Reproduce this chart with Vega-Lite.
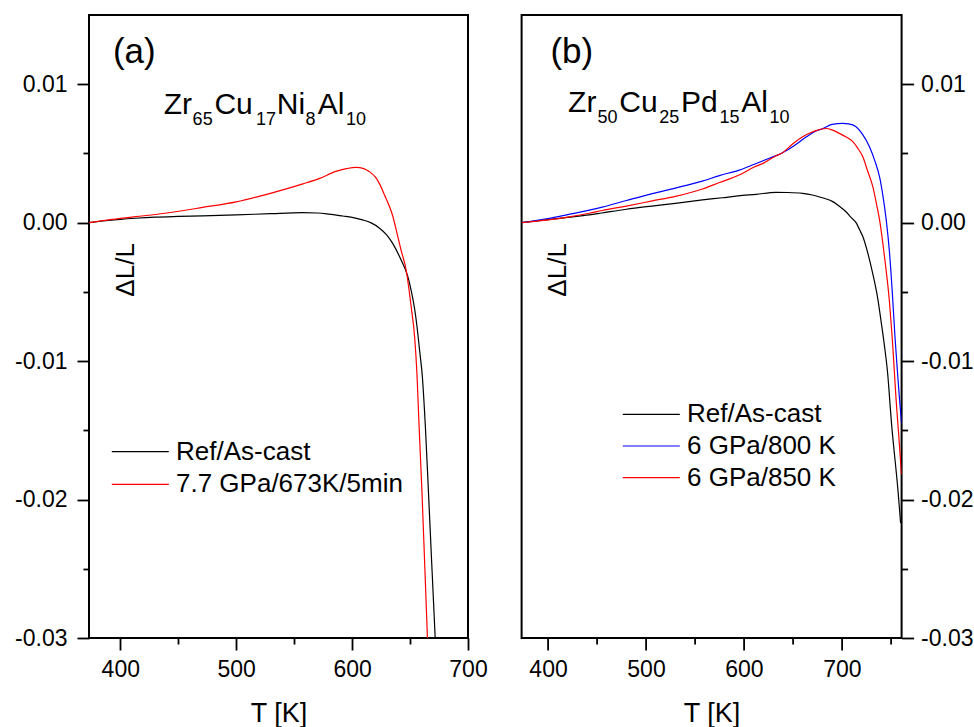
{
  "$schema": "https://vega.github.io/schema/vega-lite/v6.json",
  "padding": {"left": 13, "top": 14, "right": 2, "bottom": 0},
  "bounds": "flush",
  "spacing": 53.6,
  "config": {
    "font": "Liberation Sans",
    "view": {"stroke": "black", "strokeWidth": 2},
    "axis": {"domain": false, "grid": false, "tickColor": "black", "tickWidth": 1.8, "tickSize": 12, "labelFont": "Liberation Sans", "labelFontSize": 23, "labelColor": "black", "labelFlush": false, "labelOverlap": false, "titleFont": "Liberation Sans", "titleFontWeight": "normal", "titleColor": "black"},
    "legend": {"orient": "none", "symbolType": "M-3,0H3", "symbolSize": 361, "symbolStrokeWidth": 1.2, "labelFont": "Liberation Sans", "labelFontSize": 26, "labelColor": "black", "labelOffset": 22.7, "rowPadding": 6.6, "padding": 0, "labelLimit": 500},
    "text": {"font": "Liberation Sans", "color": "black"}
  },
  "datasets": {
    "a": [
      {"T": 373, "dL": 0, "s": "Ref/As-cast"},
      {"T": 385, "dL": 0.00012, "s": "Ref/As-cast"},
      {"T": 400, "dL": 0.00024, "s": "Ref/As-cast"},
      {"T": 413, "dL": 0.00032, "s": "Ref/As-cast"},
      {"T": 430, "dL": 0.0004, "s": "Ref/As-cast"},
      {"T": 450, "dL": 0.00045, "s": "Ref/As-cast"},
      {"T": 471, "dL": 0.00049, "s": "Ref/As-cast"},
      {"T": 500, "dL": 0.00056, "s": "Ref/As-cast"},
      {"T": 530, "dL": 0.00065, "s": "Ref/As-cast"},
      {"T": 557, "dL": 0.00072, "s": "Ref/As-cast"},
      {"T": 570, "dL": 0.0007, "s": "Ref/As-cast"},
      {"T": 580, "dL": 0.00062, "s": "Ref/As-cast"},
      {"T": 592, "dL": 0.00048, "s": "Ref/As-cast"},
      {"T": 600, "dL": 0.00038, "s": "Ref/As-cast"},
      {"T": 609, "dL": 0.0002, "s": "Ref/As-cast"},
      {"T": 616, "dL": 0.0, "s": "Ref/As-cast"},
      {"T": 623.7, "dL": -0.0004, "s": "Ref/As-cast"},
      {"T": 630, "dL": -0.0009, "s": "Ref/As-cast"},
      {"T": 635, "dL": -0.0015, "s": "Ref/As-cast"},
      {"T": 642.3, "dL": -0.0027, "s": "Ref/As-cast"},
      {"T": 648.1, "dL": -0.0039, "s": "Ref/As-cast"},
      {"T": 651, "dL": -0.0049, "s": "Ref/As-cast"},
      {"T": 653.9, "dL": -0.0062, "s": "Ref/As-cast"},
      {"T": 656, "dL": -0.0075, "s": "Ref/As-cast"},
      {"T": 658.2, "dL": -0.0092, "s": "Ref/As-cast"},
      {"T": 660.5, "dL": -0.0110, "s": "Ref/As-cast"},
      {"T": 663.2, "dL": -0.0147, "s": "Ref/As-cast"},
      {"T": 665.8, "dL": -0.0193, "s": "Ref/As-cast"},
      {"T": 668.7, "dL": -0.0246, "s": "Ref/As-cast"},
      {"T": 671.7, "dL": -0.03, "s": "Ref/As-cast"},
      {"T": 373, "dL": 0, "s": "7.7 GPa/673K/5min"},
      {"T": 390, "dL": 0.0002, "s": "7.7 GPa/673K/5min"},
      {"T": 413.5, "dL": 0.00043, "s": "7.7 GPa/673K/5min"},
      {"T": 440, "dL": 0.0007, "s": "7.7 GPa/673K/5min"},
      {"T": 471, "dL": 0.0011, "s": "7.7 GPa/673K/5min"},
      {"T": 500, "dL": 0.0015, "s": "7.7 GPa/673K/5min"},
      {"T": 528.7, "dL": 0.0021, "s": "7.7 GPa/673K/5min"},
      {"T": 557.5, "dL": 0.0028, "s": "7.7 GPa/673K/5min"},
      {"T": 572, "dL": 0.0032, "s": "7.7 GPa/673K/5min"},
      {"T": 586, "dL": 0.0037, "s": "7.7 GPa/673K/5min"},
      {"T": 595, "dL": 0.0039, "s": "7.7 GPa/673K/5min"},
      {"T": 603.5, "dL": 0.004, "s": "7.7 GPa/673K/5min"},
      {"T": 610, "dL": 0.0039, "s": "7.7 GPa/673K/5min"},
      {"T": 615, "dL": 0.00368, "s": "7.7 GPa/673K/5min"},
      {"T": 620, "dL": 0.0033, "s": "7.7 GPa/673K/5min"},
      {"T": 623.7, "dL": 0.0028, "s": "7.7 GPa/673K/5min"},
      {"T": 628, "dL": 0.002, "s": "7.7 GPa/673K/5min"},
      {"T": 632.3, "dL": 0.00115, "s": "7.7 GPa/673K/5min"},
      {"T": 635, "dL": 0.0005, "s": "7.7 GPa/673K/5min"},
      {"T": 638, "dL": -0.0005, "s": "7.7 GPa/673K/5min"},
      {"T": 642.3, "dL": -0.002, "s": "7.7 GPa/673K/5min"},
      {"T": 646.6, "dL": -0.0034, "s": "7.7 GPa/673K/5min"},
      {"T": 651, "dL": -0.0061, "s": "7.7 GPa/673K/5min"},
      {"T": 654, "dL": -0.0083, "s": "7.7 GPa/673K/5min"},
      {"T": 656, "dL": -0.011, "s": "7.7 GPa/673K/5min"},
      {"T": 657.8, "dL": -0.0147, "s": "7.7 GPa/673K/5min"},
      {"T": 660.3, "dL": -0.0195, "s": "7.7 GPa/673K/5min"},
      {"T": 662.7, "dL": -0.0248, "s": "7.7 GPa/673K/5min"},
      {"T": 665, "dL": -0.03, "s": "7.7 GPa/673K/5min"}
    ],
    "b": [
      {"T": 373, "dL": 0, "s": "Ref/As-cast"},
      {"T": 400, "dL": 0.00022, "s": "Ref/As-cast"},
      {"T": 420, "dL": 0.00038, "s": "Ref/As-cast"},
      {"T": 442, "dL": 0.00056, "s": "Ref/As-cast"},
      {"T": 455, "dL": 0.0007, "s": "Ref/As-cast"},
      {"T": 480, "dL": 0.00097, "s": "Ref/As-cast"},
      {"T": 506, "dL": 0.0012, "s": "Ref/As-cast"},
      {"T": 530, "dL": 0.0014, "s": "Ref/As-cast"},
      {"T": 557.6, "dL": 0.00164, "s": "Ref/As-cast"},
      {"T": 578, "dL": 0.0018, "s": "Ref/As-cast"},
      {"T": 594, "dL": 0.00193, "s": "Ref/As-cast"},
      {"T": 612.6, "dL": 0.00205, "s": "Ref/As-cast"},
      {"T": 632.7, "dL": 0.00219, "s": "Ref/As-cast"},
      {"T": 645, "dL": 0.00218, "s": "Ref/As-cast"},
      {"T": 660, "dL": 0.00212, "s": "Ref/As-cast"},
      {"T": 670, "dL": 0.002, "s": "Ref/As-cast"},
      {"T": 680, "dL": 0.0018, "s": "Ref/As-cast"},
      {"T": 690.7, "dL": 0.00152, "s": "Ref/As-cast"},
      {"T": 697.5, "dL": 0.00118, "s": "Ref/As-cast"},
      {"T": 704.3, "dL": 0.00079, "s": "Ref/As-cast"},
      {"T": 709, "dL": 0.0004, "s": "Ref/As-cast"},
      {"T": 714.5, "dL": 0.0, "s": "Ref/As-cast"},
      {"T": 718, "dL": -0.0005, "s": "Ref/As-cast"},
      {"T": 721.4, "dL": -0.001, "s": "Ref/As-cast"},
      {"T": 726.5, "dL": -0.0022, "s": "Ref/As-cast"},
      {"T": 731.6, "dL": -0.0037, "s": "Ref/As-cast"},
      {"T": 736.7, "dL": -0.0055, "s": "Ref/As-cast"},
      {"T": 740.2, "dL": -0.0072, "s": "Ref/As-cast"},
      {"T": 743.5, "dL": -0.0089, "s": "Ref/As-cast"},
      {"T": 746.5, "dL": -0.0107, "s": "Ref/As-cast"},
      {"T": 750.7, "dL": -0.0145, "s": "Ref/As-cast"},
      {"T": 757.5, "dL": -0.0195, "s": "Ref/As-cast"},
      {"T": 760, "dL": -0.0217, "s": "Ref/As-cast"},
      {"T": 373, "dL": 0, "s": "6 GPa/800 K"},
      {"T": 400, "dL": 0.0003, "s": "6 GPa/800 K"},
      {"T": 420, "dL": 0.00058, "s": "6 GPa/800 K"},
      {"T": 442, "dL": 0.0009, "s": "6 GPa/800 K"},
      {"T": 455.3, "dL": 0.00112, "s": "6 GPa/800 K"},
      {"T": 480, "dL": 0.0016, "s": "6 GPa/800 K"},
      {"T": 506.4, "dL": 0.0021, "s": "6 GPa/800 K"},
      {"T": 530, "dL": 0.0025, "s": "6 GPa/800 K"},
      {"T": 557.6, "dL": 0.003, "s": "6 GPa/800 K"},
      {"T": 575, "dL": 0.0034, "s": "6 GPa/800 K"},
      {"T": 595.2, "dL": 0.0038, "s": "6 GPa/800 K"},
      {"T": 610, "dL": 0.0042, "s": "6 GPa/800 K"},
      {"T": 625.9, "dL": 0.00465, "s": "6 GPa/800 K"},
      {"T": 639.5, "dL": 0.00505, "s": "6 GPa/800 K"},
      {"T": 650, "dL": 0.0055, "s": "6 GPa/800 K"},
      {"T": 663.8, "dL": 0.0062, "s": "6 GPa/800 K"},
      {"T": 673, "dL": 0.0066, "s": "6 GPa/800 K"},
      {"T": 680.8, "dL": 0.0068, "s": "6 GPa/800 K"},
      {"T": 690, "dL": 0.0071, "s": "6 GPa/800 K"},
      {"T": 700.9, "dL": 0.00717, "s": "6 GPa/800 K"},
      {"T": 707, "dL": 0.00714, "s": "6 GPa/800 K"},
      {"T": 714.5, "dL": 0.00693, "s": "6 GPa/800 K"},
      {"T": 721, "dL": 0.0064, "s": "6 GPa/800 K"},
      {"T": 728.2, "dL": 0.00548, "s": "6 GPa/800 K"},
      {"T": 733.5, "dL": 0.0045, "s": "6 GPa/800 K"},
      {"T": 738.5, "dL": 0.0033, "s": "6 GPa/800 K"},
      {"T": 742, "dL": 0.0019, "s": "6 GPa/800 K"},
      {"T": 745.3, "dL": 0.0002, "s": "6 GPa/800 K"},
      {"T": 748.7, "dL": -0.0022, "s": "6 GPa/800 K"},
      {"T": 752, "dL": -0.0056, "s": "6 GPa/800 K"},
      {"T": 754.2, "dL": -0.0082, "s": "6 GPa/800 K"},
      {"T": 756.4, "dL": -0.0104, "s": "6 GPa/800 K"},
      {"T": 758.6, "dL": -0.0125, "s": "6 GPa/800 K"},
      {"T": 761, "dL": -0.0145, "s": "6 GPa/800 K"},
      {"T": 373, "dL": 0, "s": "6 GPa/850 K"},
      {"T": 400, "dL": 0.0002, "s": "6 GPa/850 K"},
      {"T": 420, "dL": 0.0004, "s": "6 GPa/850 K"},
      {"T": 442, "dL": 0.00068, "s": "6 GPa/850 K"},
      {"T": 455.3, "dL": 0.00088, "s": "6 GPa/850 K"},
      {"T": 480, "dL": 0.0012, "s": "6 GPa/850 K"},
      {"T": 506.4, "dL": 0.00157, "s": "6 GPa/850 K"},
      {"T": 530, "dL": 0.0019, "s": "6 GPa/850 K"},
      {"T": 557.6, "dL": 0.00243, "s": "6 GPa/850 K"},
      {"T": 575, "dL": 0.0029, "s": "6 GPa/850 K"},
      {"T": 595.2, "dL": 0.00344, "s": "6 GPa/850 K"},
      {"T": 610, "dL": 0.004, "s": "6 GPa/850 K"},
      {"T": 620, "dL": 0.0043, "s": "6 GPa/850 K"},
      {"T": 632, "dL": 0.0048, "s": "6 GPa/850 K"},
      {"T": 639.5, "dL": 0.00505, "s": "6 GPa/850 K"},
      {"T": 650, "dL": 0.0057, "s": "6 GPa/850 K"},
      {"T": 660, "dL": 0.0062, "s": "6 GPa/850 K"},
      {"T": 668, "dL": 0.0065, "s": "6 GPa/850 K"},
      {"T": 673.6, "dL": 0.00665, "s": "6 GPa/850 K"},
      {"T": 683.8, "dL": 0.0068, "s": "6 GPa/850 K"},
      {"T": 690, "dL": 0.0067, "s": "6 GPa/850 K"},
      {"T": 697.5, "dL": 0.00645, "s": "6 GPa/850 K"},
      {"T": 704, "dL": 0.0062, "s": "6 GPa/850 K"},
      {"T": 711.2, "dL": 0.00585, "s": "6 GPa/850 K"},
      {"T": 716, "dL": 0.0054, "s": "6 GPa/850 K"},
      {"T": 721.4, "dL": 0.00476, "s": "6 GPa/850 K"},
      {"T": 726, "dL": 0.0038, "s": "6 GPa/850 K"},
      {"T": 731.6, "dL": 0.0026, "s": "6 GPa/850 K"},
      {"T": 735.5, "dL": 0.0013, "s": "6 GPa/850 K"},
      {"T": 738.5, "dL": 0.0002, "s": "6 GPa/850 K"},
      {"T": 743.6, "dL": -0.0025, "s": "6 GPa/850 K"},
      {"T": 748.7, "dL": -0.0058, "s": "6 GPa/850 K"},
      {"T": 751.4, "dL": -0.0083, "s": "6 GPa/850 K"},
      {"T": 753.3, "dL": -0.0104, "s": "6 GPa/850 K"},
      {"T": 755.4, "dL": -0.0128, "s": "6 GPa/850 K"},
      {"T": 757.7, "dL": -0.015, "s": "6 GPa/850 K"},
      {"T": 760.9, "dL": -0.0182, "s": "6 GPa/850 K"}
    ]
  },
  "resolve": {"scale": {"color": "independent"}, "legend": {"color": "independent"}},
  "hconcat": [
    {
      "width": 379,
      "height": 623,
      "resolve": {"axis": {"x": "independent", "y": "independent"}},
      "layer": [
        {
          "layer": [
            {
              "data": {"name": "a"},
              "mark": {"type": "line", "interpolate": "monotone", "strokeWidth": 1.2, "clip": true},
              "encoding": {
                "x": {"field": "T", "type": "quantitative", "scale": {"domain": [373, 700], "nice": false, "zero": false},
                  "axis": {"values": [400, 500, 600, 700], "title": "T [K]", "titleFontSize": 27, "titleY": 83, "titleBaseline": "alphabetic", "labelPadding": 8}},
                "y": {"field": "dL", "type": "quantitative", "scale": {"domain": [-0.03, 0.015], "nice": false, "zero": false},
                  "axis": {"values": [-0.03, -0.02, -0.01, 0, 0.01], "title": null, "labelPadding": 10, "labelExpr": "datum.value < 0 ? '-' + format(-datum.value, '.2f') : format(datum.value, '.2f')"}},
                "color": {"field": "s", "type": "nominal", "sort": null,
                  "scale": {"domain": ["Ref/As-cast", "7.7 GPa/673K/5min"], "range": ["#000000", "#ff0000"]},
                  "legend": {"title": null, "legendX": 38.3, "legendY": 423.7}}
              }
            },
            {"data": {"values": [{}]}, "mark": {"type": "text", "text": "(a)", "fontSize": 35, "align": "left", "baseline": "alphabetic"},
              "encoding": {"x": {"datum": 393.6, "type": "quantitative"}, "y": {"datum": 0.0115, "type": "quantitative"}}},
            {"data": {"values": [{}]}, "mark": {"type": "text", "text": "ΔL/L", "fontSize": 26, "angle": 270, "align": "center", "baseline": "alphabetic"},
              "encoding": {"x": {"datum": 412.1, "type": "quantitative"}, "y": {"datum": -0.00341, "type": "quantitative"}}},
            {"data": {"values": [{}]}, "mark": {"type": "text", "text": "Zr", "fontSize": 30, "align": "left", "baseline": "alphabetic"},
              "encoding": {"x": {"datum": 437.4, "type": "quantitative"}, "y": {"datum": 0.00784, "type": "quantitative"}}},
            {"data": {"values": [{}]}, "mark": {"type": "text", "text": "65", "fontSize": 18, "align": "left", "baseline": "alphabetic"},
              "encoding": {"x": {"datum": 462.4, "type": "quantitative"}, "y": {"datum": 0.00703, "type": "quantitative"}}},
            {"data": {"values": [{}]}, "mark": {"type": "text", "text": "Cu", "fontSize": 30, "align": "left", "baseline": "alphabetic"},
              "encoding": {"x": {"datum": 481.2, "type": "quantitative"}, "y": {"datum": 0.00784, "type": "quantitative"}}},
            {"data": {"values": [{}]}, "mark": {"type": "text", "text": "17", "fontSize": 18, "align": "left", "baseline": "alphabetic"},
              "encoding": {"x": {"datum": 517.1, "type": "quantitative"}, "y": {"datum": 0.00703, "type": "quantitative"}}},
            {"data": {"values": [{}]}, "mark": {"type": "text", "text": "Ni", "fontSize": 30, "align": "left", "baseline": "alphabetic"},
              "encoding": {"x": {"datum": 535.0, "type": "quantitative"}, "y": {"datum": 0.00784, "type": "quantitative"}}},
            {"data": {"values": [{}]}, "mark": {"type": "text", "text": "8", "fontSize": 18, "align": "left", "baseline": "alphabetic"},
              "encoding": {"x": {"datum": 559.8, "type": "quantitative"}, "y": {"datum": 0.00703, "type": "quantitative"}}},
            {"data": {"values": [{}]}, "mark": {"type": "text", "text": "Al", "fontSize": 30, "align": "left", "baseline": "alphabetic"},
              "encoding": {"x": {"datum": 570.4, "type": "quantitative"}, "y": {"datum": 0.00784, "type": "quantitative"}}},
            {"data": {"values": [{}]}, "mark": {"type": "text", "text": "10", "fontSize": 18, "align": "left", "baseline": "alphabetic"},
              "encoding": {"x": {"datum": 594.8, "type": "quantitative"}, "y": {"datum": 0.00703, "type": "quantitative"}}}
          ]
        },
        {
          "data": {"values": [{}]},
          "mark": {"type": "text", "text": ""},
          "encoding": {
            "x": {"datum": 450, "type": "quantitative", "axis": {"orient": "bottom", "values": [450, 550, 650], "labels": false, "tickSize": 6, "title": null}},
            "y": {"datum": 0, "type": "quantitative", "axis": {"orient": "left", "values": [-0.025, -0.015, -0.005, 0.005], "labels": false, "tickSize": 6, "title": null}}
          }
        }
      ]
    },
    {
      "width": 380,
      "height": 623,
      "resolve": {"axis": {"x": "independent", "y": "independent"}},
      "layer": [
        {
          "layer": [
            {
              "data": {"name": "b"},
              "mark": {"type": "line", "interpolate": "monotone", "strokeWidth": 1.2, "clip": true},
              "encoding": {
                "x": {"field": "T", "type": "quantitative", "scale": {"domain": [373, 761], "nice": false, "zero": false},
                  "axis": {"values": [400, 500, 600, 700], "title": "T [K]", "titleFontSize": 27, "titleY": 83, "titleBaseline": "alphabetic", "labelPadding": 8}},
                "y": {"field": "dL", "type": "quantitative", "scale": {"domain": [-0.03, 0.015], "nice": false, "zero": false},
                  "axis": {"orient": "right", "values": [-0.03, -0.02, -0.01, 0, 0.01], "title": null, "labelPadding": 7, "labelExpr": "datum.value < 0 ? '-' + format(-datum.value, '.2f') : format(datum.value, '.2f')"}},
                "color": {"field": "s", "type": "nominal", "sort": null,
                  "scale": {"domain": ["Ref/As-cast", "6 GPa/800 K", "6 GPa/850 K"], "range": ["#000000", "#0000ff", "#ff0000"]},
                  "legend": {"title": null, "legendX": 116.7, "legendY": 386.3, "rowPadding": 5.7}}
              }
            },
            {"data": {"values": [{}]}, "mark": {"type": "text", "text": "(b)", "fontSize": 35, "align": "left", "baseline": "alphabetic"},
              "encoding": {"x": {"datum": 402.4, "type": "quantitative"}, "y": {"datum": 0.0115, "type": "quantitative"}}},
            {"data": {"values": [{}]}, "mark": {"type": "text", "text": "ΔL/L", "fontSize": 26, "angle": 270, "align": "center", "baseline": "alphabetic"},
              "encoding": {"x": {"datum": 418.7, "type": "quantitative"}, "y": {"datum": -0.00341, "type": "quantitative"}}},
            {"data": {"values": [{}]}, "mark": {"type": "text", "text": "Zr", "fontSize": 30, "align": "left", "baseline": "alphabetic"},
              "encoding": {"x": {"datum": 420.5, "type": "quantitative"}, "y": {"datum": 0.00801, "type": "quantitative"}}},
            {"data": {"values": [{}]}, "mark": {"type": "text", "text": "50", "fontSize": 18, "align": "left", "baseline": "alphabetic"},
              "encoding": {"x": {"datum": 450.5, "type": "quantitative"}, "y": {"datum": 0.00722, "type": "quantitative"}}},
            {"data": {"values": [{}]}, "mark": {"type": "text", "text": "Cu", "fontSize": 30, "align": "left", "baseline": "alphabetic"},
              "encoding": {"x": {"datum": 472.7, "type": "quantitative"}, "y": {"datum": 0.00801, "type": "quantitative"}}},
            {"data": {"values": [{}]}, "mark": {"type": "text", "text": "25", "fontSize": 18, "align": "left", "baseline": "alphabetic"},
              "encoding": {"x": {"datum": 513.6, "type": "quantitative"}, "y": {"datum": 0.00722, "type": "quantitative"}}},
            {"data": {"values": [{}]}, "mark": {"type": "text", "text": "Pd", "fontSize": 30, "align": "left", "baseline": "alphabetic"},
              "encoding": {"x": {"datum": 535.8, "type": "quantitative"}, "y": {"datum": 0.00801, "type": "quantitative"}}},
            {"data": {"values": [{}]}, "mark": {"type": "text", "text": "15", "fontSize": 18, "align": "left", "baseline": "alphabetic"},
              "encoding": {"x": {"datum": 575.0, "type": "quantitative"}, "y": {"datum": 0.00722, "type": "quantitative"}}},
            {"data": {"values": [{}]}, "mark": {"type": "text", "text": "Al", "fontSize": 30, "align": "left", "baseline": "alphabetic"},
              "encoding": {"x": {"datum": 597.2, "type": "quantitative"}, "y": {"datum": 0.00801, "type": "quantitative"}}},
            {"data": {"values": [{}]}, "mark": {"type": "text", "text": "10", "fontSize": 18, "align": "left", "baseline": "alphabetic"},
              "encoding": {"x": {"datum": 626.2, "type": "quantitative"}, "y": {"datum": 0.00722, "type": "quantitative"}}}
          ]
        },
        {
          "data": {"values": [{}]},
          "mark": {"type": "text", "text": ""},
          "encoding": {
            "x": {"datum": 450, "type": "quantitative", "axis": {"orient": "bottom", "values": [450, 550, 650, 750], "labels": false, "tickSize": 6, "title": null}},
            "y": {"datum": 0, "type": "quantitative", "axis": {"orient": "right", "values": [-0.025, -0.015, -0.005, 0.005], "labels": false, "tickSize": 6, "title": null}}
          }
        }
      ]
    }
  ]
}
